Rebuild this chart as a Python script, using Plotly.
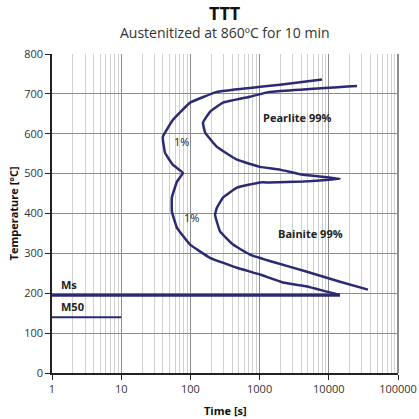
import math
import plotly.graph_objects as go

# 1% transformation start curve
start_time = [7980, 1972, 727, 242, 99, 56, 40, 40, 43, 56, 78, 64, 54, 54, 64, 99,
              192, 471, 1013, 2177, 4840, 9420, 14500]
start_temp = [736, 723, 715, 705, 678, 635, 593, 585, 552, 522, 502, 480, 440, 405, 364, 322,
              289, 264, 247, 227, 217, 204, 196]

# 99% transformation finish curve
finish_time = [25600, 1413, 727, 296, 192, 152, 163, 242, 471, 1013, 1972, 4240, 14500,
               4240, 1413, 1013, 471, 296, 242, 227, 268, 413, 727, 1670, 4840, 14500, 36800]
finish_temp = [720, 705, 693, 678, 655, 628, 603, 567, 535, 517, 510, 497, 487,
               480, 478, 478, 465, 440, 415, 397, 355, 322, 297, 277, 254, 229, 209]

ms_time = [1, 14500]
ms_temp = [195, 195]
m50_time = [1, 10]
m50_temp = [140, 140]

tick_vals = [1, 10, 100, 1000, 10000, 100000]
tick_text = ["1", "10", "100", "1000", "10000", "100000"]

LINE = "#2b2a72"
FONT = "Open Sans"

fig = go.Figure()
fig.add_trace(go.Scatter(x=start_time, y=start_temp, mode="lines",
                         line=dict(color=LINE, width=2.5, shape="spline", smoothing=0.3)))
fig.add_trace(go.Scatter(x=finish_time, y=finish_temp, mode="lines",
                         line=dict(color=LINE, width=2.5, shape="spline", smoothing=0.3)))
fig.add_trace(go.Scatter(x=ms_time, y=ms_temp, mode="lines", line=dict(color=LINE, width=3)))
fig.add_trace(go.Scatter(x=m50_time, y=m50_temp, mode="lines", line=dict(color=LINE, width=2)))

# labels on the chart (x in seconds, converted to log units for the log axis)
labels = [
    (75, 580, "1%"),
    (105, 390, "1%"),
    (3470, 640, "<b>Pearlite 99%</b>"),
    (5350, 350, "<b>Bainite 99%</b>"),
]
for x, y, t in labels:
    fig.add_annotation(x=math.log10(x), y=y, xref="x", yref="y", text=t, showarrow=False,
                       font=dict(family=FONT, size=11, color="#222"))
fig.add_annotation(x=math.log10(1.25), y=197, xref="x", yref="y", text="<b>Ms</b>", showarrow=False,
                   xanchor="left", yanchor="bottom", font=dict(family=FONT, size=11, color="#222"))
fig.add_annotation(x=math.log10(1.25), y=142, xref="x", yref="y", text="<b>M50</b>", showarrow=False,
                   xanchor="left", yanchor="bottom", font=dict(family=FONT, size=11, color="#222"))

fig.add_shape(type="line", xref="paper", yref="paper", x0=1, x1=1, y0=0, y1=1,
              line=dict(color="#8c8c8c", width=2))

# titles
fig.add_annotation(x=0.5, y=1.13, xref="paper", yref="paper", text="<b>TTT</b>",
                   xanchor="center", yanchor="middle",
                   showarrow=False, font=dict(family=FONT, size=18, color="#111"))
fig.add_annotation(x=0.5, y=1.066, xref="paper", yref="paper", text="Austenitized at 860ºC for 10 min",
                   xanchor="center", yanchor="middle",
                   showarrow=False, font=dict(family=FONT, size=14, color="#333"))
fig.add_annotation(x=0.5, y=-0.116, xref="paper", yref="paper", text="<b>Time [s]</b>",
                   xanchor="center", yanchor="middle",
                   showarrow=False, font=dict(family=FONT, size=11, color="#111"))
fig.add_annotation(x=-0.11, y=0.5, xref="paper", yref="paper", text="<b>Temperature [°C]</b>",
                   xanchor="center", yanchor="middle",
                   textangle=-90, showarrow=False, font=dict(family=FONT, size=11, color="#111"))

fig.update_layout(
    width=419, height=419,
    showlegend=False,
    paper_bgcolor="white", plot_bgcolor="white",
    margin=dict(l=52, r=21, t=54, b=46, autoexpand=False),
    font=dict(family=FONT, size=11, color="#333"),
    xaxis=dict(type="log", range=[0, 5], tickvals=tick_vals, ticktext=tick_text,
               showline=True, linecolor="#222", linewidth=1.5,
               ticks="outside", ticklen=5, tickcolor="#222",
               showgrid=True, gridcolor="#8c8c8c", gridwidth=1,
               minor=dict(dtick="D1", showgrid=True, gridcolor="#d0d0d0", gridwidth=1, ticks=""),
               automargin=False, zeroline=False),
    yaxis=dict(range=[0, 800], dtick=100,
               showline=True, linecolor="#222", linewidth=1.5,
               ticks="outside", ticklen=5, tickcolor="#222",
               showgrid=True, gridcolor="#8c8c8c", gridwidth=1,
               automargin=False, zeroline=False),
)

# drop the default 8px page margin so the figure fills the window
fig.write_html("out.html", config={"displayModeBar": False},
               post_script="document.body.style.margin='0';")
